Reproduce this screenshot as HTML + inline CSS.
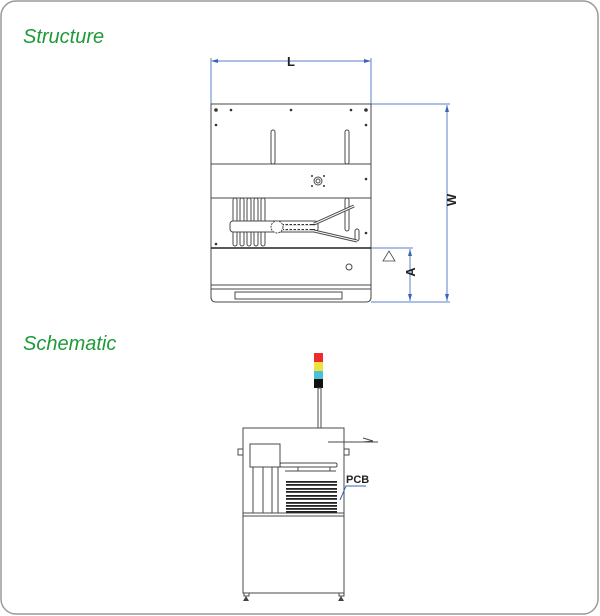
<!DOCTYPE html>
<html><head><meta charset="utf-8"><style>
html,body{margin:0;padding:0;background:#fff;}
svg{display:block;}
text{font-family:"Liberation Sans",sans-serif;}
</style></head><body>
<svg width="600" height="616" viewBox="0 0 600 616" xmlns="http://www.w3.org/2000/svg">
<rect x="1" y="1" width="597" height="613" rx="15" fill="#fff" stroke="#9a9a9a" stroke-width="1.5"/>
<text x="23" y="43" font-size="20" font-style="italic" fill="#1f9a3a">Structure</text>
<text x="23" y="350" font-size="20" font-style="italic" fill="#1f9a3a">Schematic</text>

<!-- Structure -->
<g stroke="#5b7fc8" stroke-width="1" fill="none">
<line x1="211" y1="58" x2="211" y2="104"/>
<line x1="371" y1="58" x2="371" y2="104"/>
<line x1="212" y1="61" x2="370" y2="61"/>
<line x1="371" y1="104" x2="450" y2="104"/>
<line x1="371" y1="302" x2="450" y2="302"/>
<line x1="447" y1="105" x2="447" y2="301"/>
<line x1="371" y1="248" x2="413" y2="248"/>
<line x1="410" y1="249" x2="410" y2="301"/>
</g>
<g fill="#3c63b8">
<polygon points="211,61 218,59 218,63"/><polygon points="371,61 364,59 364,63"/>
<polygon points="447,105 445,112 449,112"/><polygon points="447,301 445,294 449,294"/>
<polygon points="410,249 408,256 412,256"/><polygon points="410,301 408,294 412,294"/>
</g>
<text x="291" y="66" font-size="13" font-weight="600" text-anchor="middle" fill="#222">L</text>
<text transform="translate(456,200) rotate(-90)" font-size="13" font-weight="600" text-anchor="middle" fill="#222">W</text>
<text transform="translate(415,272) rotate(-90)" font-size="13" font-weight="600" text-anchor="middle" fill="#222">A</text>
<polygon points="389,251 383,261 395,261" fill="none" stroke="#444" stroke-width="0.8"/>

<g stroke="#4a4a4a" stroke-width="1" fill="none">
<path d="M211,104 H371 V297 Q371,302 366,302 H216 Q211,302 211,297 Z"/>
<line x1="211" y1="164" x2="371" y2="164"/>
<line x1="211" y1="198" x2="371" y2="198"/>
<line x1="211" y1="285" x2="371" y2="285"/>
<line x1="211" y1="289" x2="371" y2="289"/>
<rect x="235" y="292" width="107" height="7"/>
<rect x="271" y="130" width="4" height="34" rx="2"/>
<rect x="345" y="130" width="4" height="34" rx="2"/>
<rect x="345" y="198" width="4" height="33" rx="2"/>
<rect x="233" y="198" width="4" height="48" rx="2"/>
<rect x="240" y="198" width="4" height="48" rx="2"/>
<rect x="247" y="198" width="4" height="48" rx="2"/>
<rect x="254" y="198" width="4" height="48" rx="2"/>
<rect x="261" y="198" width="4" height="48" rx="2"/>
<rect x="230" y="221" width="88" height="11" rx="3" fill="#fff"/>
<circle cx="277" cy="227" r="6" fill="#fff" stroke-dasharray="2 1"/>
<line x1="314" y1="224" x2="354" y2="206" stroke-width="3"/>
<line x1="314" y1="231" x2="357" y2="241" stroke-width="3"/>
<rect x="355" y="229" width="4" height="12" rx="2"/>
<circle cx="318" cy="181" r="4"/><circle cx="318" cy="181" r="2"/>
<circle cx="349" cy="267" r="3"/>
</g>
<line x1="211" y1="248" x2="371" y2="248" stroke="#222" stroke-width="1.5"/>
<line x1="314" y1="224" x2="354" y2="206" stroke="#fff" stroke-width="1"/>
<line x1="314" y1="231" x2="357" y2="241" stroke="#fff" stroke-width="1"/>
<g fill="#333">
<circle cx="216" cy="110" r="1.8"/><circle cx="231" cy="110" r="1.3"/><circle cx="291" cy="110" r="1.3"/><circle cx="351" cy="110" r="1.3"/><circle cx="366" cy="110" r="1.8"/>
<circle cx="216" cy="125" r="1.3"/><circle cx="366" cy="125" r="1.3"/><circle cx="366" cy="179" r="1.3"/><circle cx="366" cy="233" r="1.3"/><circle cx="216" cy="244" r="1.3"/>
<circle cx="312" cy="176" r="1"/><circle cx="324" cy="176" r="1"/><circle cx="312" cy="186" r="1"/><circle cx="324" cy="186" r="1"/>
</g>
<g fill="#333"><rect x="283" y="224" width="32" height="1.2" /><rect x="283" y="229" width="32" height="1.2"/></g>
<g fill="#fff"><rect x="284" y="224" width="1.5" height="1.2"/><rect x="288" y="224" width="1.5" height="1.2"/><rect x="292" y="224" width="1.5" height="1.2"/><rect x="296" y="224" width="1.5" height="1.2"/><rect x="300" y="224" width="1.5" height="1.2"/><rect x="304" y="224" width="1.5" height="1.2"/><rect x="308" y="224" width="1.5" height="1.2"/>
<rect x="284" y="229" width="1.5" height="1.2"/><rect x="288" y="229" width="1.5" height="1.2"/><rect x="292" y="229" width="1.5" height="1.2"/><rect x="296" y="229" width="1.5" height="1.2"/><rect x="300" y="229" width="1.5" height="1.2"/><rect x="304" y="229" width="1.5" height="1.2"/><rect x="308" y="229" width="1.5" height="1.2"/></g>

<!-- Schematic -->
<rect x="314" y="353" width="9" height="9" fill="#ee2a2a"/>
<rect x="314" y="362" width="9" height="9" fill="#ece33c"/>
<rect x="314" y="371" width="9" height="8" fill="#4cc0d4"/>
<rect x="314" y="379" width="9" height="9" fill="#111"/>
<g stroke="#4a4a4a" stroke-width="1" fill="none">
<rect x="318" y="388" width="3" height="40"/>
<rect x="243" y="428" width="101" height="165"/>
<line x1="243" y1="513" x2="344" y2="513"/>
<line x1="243" y1="516" x2="344" y2="516"/>
<rect x="250" y="444" width="30" height="23"/>
<line x1="253" y1="467" x2="253" y2="513"/><line x1="263" y1="467" x2="263" y2="513"/>
<line x1="272" y1="467" x2="272" y2="513"/><line x1="278" y1="467" x2="278" y2="513"/>
<rect x="280" y="463" width="57" height="4" rx="1.5"/>
<line x1="285" y1="471" x2="336" y2="471"/>
<line x1="298" y1="467" x2="298" y2="471"/><line x1="330" y1="467" x2="330" y2="471"/>
<line x1="328" y1="442" x2="378" y2="442"/>
<path d="M363,438 L373,441 L363,442"/>
<rect x="238" y="449" width="5" height="6"/><rect x="344" y="449" width="5" height="6"/>
<rect x="244" y="593" width="5" height="3"/><rect x="339" y="593" width="5" height="3"/>
</g>
<path d="M243,601 L246,596 L249,601 Z M338,601 L341,596 L344,601 Z" fill="#444"/>
<g fill="#222">
<rect x="286" y="481" width="51" height="1.8"/><rect x="286" y="484" width="51" height="1.8"/>
<rect x="286" y="488" width="51" height="1.8"/><rect x="286" y="491" width="51" height="1.8"/>
<rect x="286" y="495" width="51" height="1.8"/><rect x="286" y="498" width="51" height="1.8"/>
<rect x="286" y="502" width="51" height="1.8"/><rect x="286" y="505" width="51" height="1.8"/>
<rect x="286" y="508" width="51" height="1.8"/><rect x="286" y="511" width="51" height="1.8"/>
</g>
<polyline points="340,500 346,486 366,486" fill="none" stroke="#3c63b8" stroke-width="1"/>
<text x="346" y="483" font-size="11" font-weight="bold" fill="#222">PCB</text>
</svg>
</body></html>
